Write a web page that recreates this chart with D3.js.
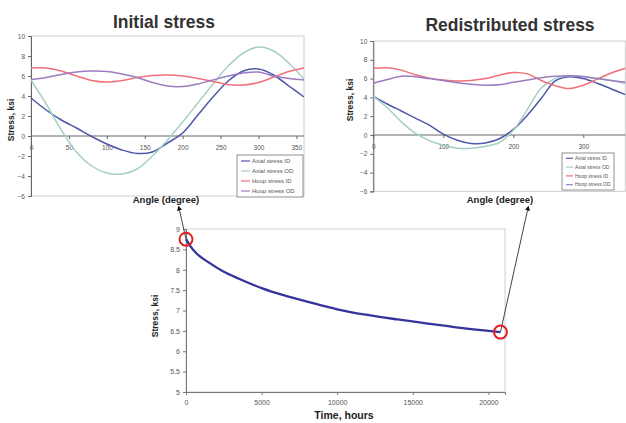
<!DOCTYPE html>
<html>
<head>
<meta charset="utf-8">
<script src="https://cdn.jsdelivr.net/npm/d3@7"></script>
<style>
  body { margin: 0; background: #fff; }
  svg { display: block; font-family: "Liberation Sans", Arial, sans-serif; }
</style>
</head>
<body>
<div id="chart"></div>
<script>
// angle data for the two upper charts
const angles = [0, 20, 40, 60, 80, 100, 120, 140, 160, 180, 200, 220, 240, 260, 280, 300, 320, 340, 360];

const initialAxialID = [3.8, 2.6, 1.6, 0.8, -0.05, -0.8, -1.4, -1.75, -1.6, -0.7, 0.3, 2.1, 3.9, 5.5, 6.5, 6.7, 6.1, 5.0, 3.9];
const initialAxialOD = [5.6, 3.2, 0.6, -1.6, -3.0, -3.7, -3.8, -3.3, -2.0, -0.4, 1.4, 3.3, 5.2, 7.0, 8.3, 8.9, 8.5, 7.3, 5.7];
const initialHoopID  = [6.8, 6.8, 6.5, 6.0, 5.55, 5.4, 5.55, 5.85, 6.05, 6.1, 6.0, 5.75, 5.45, 5.15, 5.1, 5.35, 5.9, 6.45, 6.8];
const initialHoopOD  = [5.65, 5.85, 6.15, 6.4, 6.5, 6.45, 6.2, 5.85, 5.35, 5.0, 4.95, 5.2, 5.6, 6.0, 6.3, 6.4, 6.0, 5.75, 5.6];

const redistAxialID = [4.1, 3.3, 2.55, 1.8, 1.05, 0.1, -0.55, -0.9, -0.85, -0.4, 0.6, 2.1, 3.9, 5.75, 6.2, 6.0, 5.5, 4.9, 4.3];
const redistAxialOD = [4.1, 2.9, 1.4, 0.2, -0.6, -1.1, -1.4, -1.4, -1.2, -0.8, 0.5, 2.7, 5.0, 6.0, 6.3, 6.25, 6.0, 5.8, 5.5];
const redistHoopID  = [7.1, 7.15, 6.9, 6.4, 6.05, 5.85, 5.75, 5.8, 6.0, 6.35, 6.65, 6.5, 5.8, 5.25, 4.95, 5.3, 5.95, 6.6, 7.1];
const redistHoopOD  = [5.5, 5.9, 6.25, 6.2, 6.0, 5.8, 5.55, 5.4, 5.3, 5.35, 5.6, 5.85, 6.1, 6.25, 6.3, 6.2, 6.0, 5.8, 5.6];

const seriesNames  = ["Axial stress ID", "Axial stress OD", "Hoop stress ID", "Hoop stress OD"];
const seriesColors = ["#4f58a8", "#a6cfc4", "#f0707a", "#9a7cc0"];

const stressTicks = [-6, -4, -2, 0, 2, 4, 6, 8, 10];

// relaxation curve
const hours       = [0, 250, 700, 1500, 2500, 3500, 5000, 6500, 8000, 10000, 12000, 14000, 16000, 18000, 20000, 20800];
const relaxStress = [8.75, 8.6, 8.4, 8.18, 7.95, 7.78, 7.55, 7.37, 7.22, 7.03, 6.89, 6.78, 6.68, 6.58, 6.5, 6.47];
const hourTicks   = [0, 5000, 10000, 15000, 20000];
const relaxTicks  = [5, 5.5, 6, 6.5, 7, 7.5, 8, 8.5, 9];

const W = 626, H = 423;
const svg = d3.select("#chart").append("svg").attr("width", W).attr("height", H);

svg.append("defs").append("marker")
    .attr("id", "head")
    .attr("viewBox", "0 0 10 10")
    .attr("refX", 5).attr("refY", 5)
    .attr("markerWidth", 5).attr("markerHeight", 5)
    .attr("orient", "auto")
  .append("path")
    .attr("d", "M0,0 L10,5 L0,10 z")
    .attr("fill", "#111");

function anglePanel(p) {
    const x = d3.scaleLinear().domain([0, 360]).range([p.left, p.right]);
    const y = d3.scaleLinear().domain([-6, 10]).range([p.bottom, p.top]);
    const g = svg.append("g");

    // plot frame
    g.append("rect")
        .attr("x", p.left).attr("y", p.top)
        .attr("width", p.right - p.left).attr("height", p.bottom - p.top)
        .attr("fill", "none").attr("stroke", "#cfcfcf");

    const yAxis = g.append("g")
        .attr("transform", `translate(${p.left},0)`)
        .call(d3.axisLeft(y).tickValues(stressTicks).tickSize(3).tickPadding(3));
    const xAxis = g.append("g")
        .attr("transform", `translate(0,${y(0)})`)
        .call(d3.axisBottom(x).tickValues(p.xTicks).tickSize(3).tickPadding(6));
    [xAxis, yAxis].forEach(a => {
        a.select(".domain").attr("stroke", "#666");
        a.selectAll(".tick line").attr("stroke", "#666");
        a.selectAll("text").attr("font-size", 6.5).attr("fill", "#555");
    });
    xAxis.select(".domain").attr("d", `M${p.left},0H${p.right}`);

    const line = d3.line()
        .x((d, i) => x(angles[i]))
        .y(d => y(d))
        .curve(d3.curveCatmullRom);
    p.series.forEach((s, i) => {
        g.append("path")
            .attr("d", line(s))
            .attr("fill", "none")
            .attr("stroke", seriesColors[i])
            .attr("stroke-width", 1.5);
    });

    g.append("text").attr("x", p.titleX).attr("y", p.titleY)
        .attr("text-anchor", "middle").attr("font-size", 17.5).attr("font-weight", "bold")
        .attr("fill", "#333").text(p.title);
    g.append("text").attr("x", p.xLabelX).attr("y", 203)
        .attr("text-anchor", "middle").attr("font-size", 9.5).attr("font-weight", "bold")
        .attr("fill", "#222").text("Angle (degree)");
    g.append("text")
        .attr("transform", `translate(${p.yLabelX},${p.yLabelY}) rotate(-90)`)
        .attr("text-anchor", "middle").attr("font-size", 8.5).attr("font-weight", "bold")
        .attr("fill", "#222").text("Stress, ksi");

    // legend
    const L = p.legend;
    const lg = g.append("g").attr("transform", `translate(${L.x},${L.y})`);
    lg.append("rect").attr("width", L.w).attr("height", L.h)
        .attr("fill", "#fff").attr("stroke", "#777").attr("stroke-width", 0.8);
    seriesNames.forEach((name, i) => {
        const cy = L.h * (i + 0.6) / 4.2;
        lg.append("line").attr("x1", 4).attr("x2", 4 + L.sw).attr("y1", cy).attr("y2", cy)
            .attr("stroke", seriesColors[i]).attr("stroke-width", 1.2);
        lg.append("text").attr("x", 6 + L.sw).attr("y", cy + L.fs * 0.35)
            .attr("font-size", L.fs).attr("fill", "#555").text(name);
    });
}

anglePanel({
    left: 31, right: 304, top: 36, bottom: 196,
    xTicks: [0, 50, 100, 150, 200, 250, 300, 350],
    series: [initialAxialID, initialAxialOD, initialHoopID, initialHoopOD],
    title: "Initial stress", titleX: 164, titleY: 28,
    xLabelX: 166, yLabelX: 14, yLabelY: 120,
    legend: { x: 237, y: 155, w: 66, h: 42, sw: 9, fs: 6 }
});

anglePanel({
    left: 373.3, right: 625.3, top: 41, bottom: 191.4,
    xTicks: [0, 100, 200, 300],
    series: [redistAxialID, redistAxialOD, redistHoopID, redistHoopOD],
    title: "Redistributed  stress", titleX: 510, titleY: 31,
    xLabelX: 500, yLabelX: 353, yLabelY: 100,
    legend: { x: 562, y: 153, w: 52, h: 37, sw: 7, fs: 5 }
});

// relaxation chart
const tx = d3.scaleLinear().domain([0, 21100]).range([186, 505]);
const ty = d3.scaleLinear().domain([5, 9]).range([392, 229]);
const bg = svg.append("g");
bg.append("rect")
    .attr("x", 186).attr("y", 229).attr("width", 505 - 186).attr("height", 392 - 229)
    .attr("fill", "none").attr("stroke", "#cfcfcf");
const ba = bg.append("g").attr("transform", "translate(186,0)")
    .call(d3.axisLeft(ty).tickValues(relaxTicks).tickSize(3).tickPadding(3).tickFormat(d3.format("")));
const bx = bg.append("g").attr("transform", "translate(0,392)")
    .call(d3.axisBottom(tx).tickValues(hourTicks).tickSize(3).tickPadding(5).tickFormat(d3.format("d")));
[ba, bx].forEach(a => {
    a.select(".domain").attr("stroke", "#777");
    a.selectAll(".tick line").attr("stroke", "#777");
    a.selectAll("text").attr("font-size", 7).attr("fill", "#555");
});

bg.append("path")
    .datum(hours)
    .attr("d", d3.line().x(d => tx(d)).y((d, i) => ty(relaxStress[i])).curve(d3.curveMonotoneX))
    .attr("fill", "none").attr("stroke", "#34349a").attr("stroke-width", 2.3);

bg.append("text").attr("x", 344).attr("y", 419)
    .attr("text-anchor", "middle").attr("font-size", 10.5).attr("font-weight", "bold")
    .attr("fill", "#222").text("Time, hours");
bg.append("text").attr("transform", "translate(158,316) rotate(-90)")
    .attr("text-anchor", "middle").attr("font-size", 8.5).attr("font-weight", "bold")
    .attr("fill", "#222").text("Stress, ksi");

// arrows from the marked points up to the angle charts
const first = [tx(hours[0]), ty(relaxStress[0])];
const last  = [tx(hours[hours.length - 1]), ty(relaxStress[relaxStress.length - 1])];
[[first, [179, 208]], [last, [528, 208]]].forEach(([a, b]) => {
    svg.append("line")
        .attr("x1", a[0]).attr("y1", a[1]).attr("x2", b[0]).attr("y2", b[1])
        .attr("stroke", "#444").attr("stroke-width", 1)
        .attr("marker-end", "url(#head)");
});
[first, last].forEach(c => {
    svg.append("circle").attr("cx", c[0]).attr("cy", c[1]).attr("r", 6.5)
        .attr("fill", "none").attr("stroke", "#e02020").attr("stroke-width", 2);
});
</script>
</body>
</html>
